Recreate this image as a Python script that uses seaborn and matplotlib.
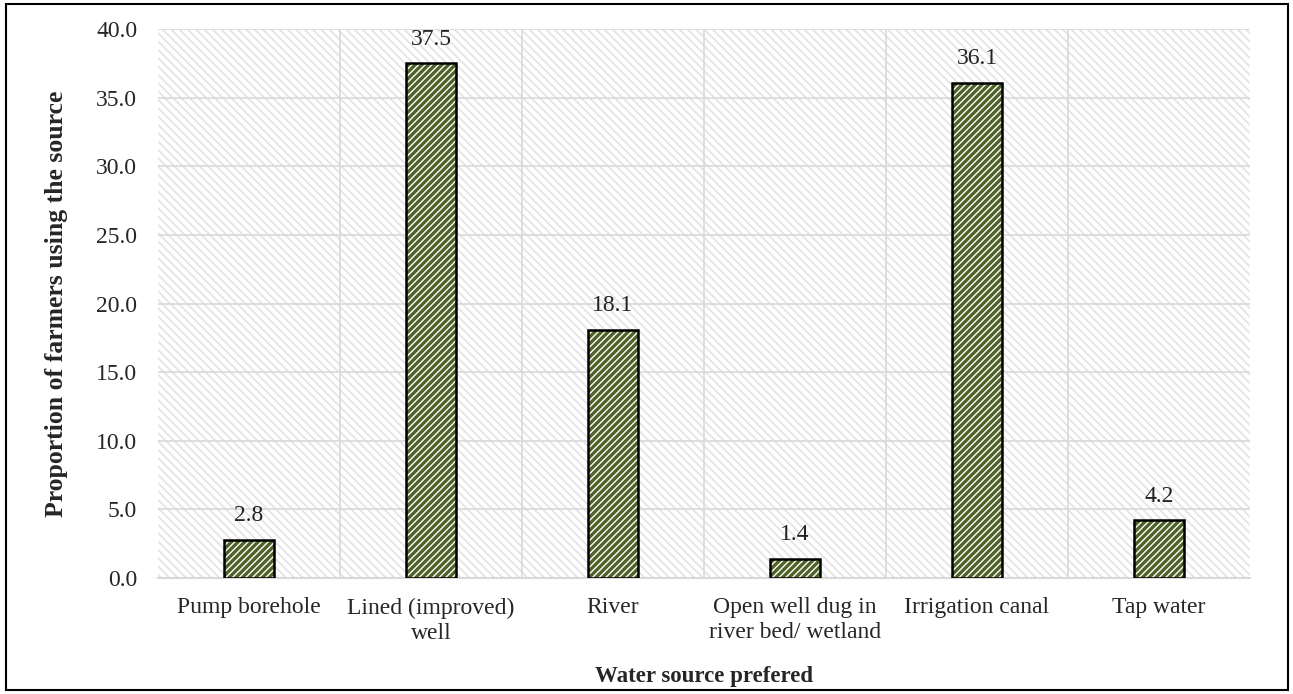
import matplotlib
matplotlib.use("Agg")
import matplotlib.pyplot as plt
import seaborn as sns
import pandas as pd
from matplotlib.patches import Rectangle

categories = ["Pump borehole", "Lined (improved)\nwell", "River",
              "Open well dug in\nriver bed/ wetland", "Irrigation canal", "Tap water"]
values = [2.8, 37.5, 18.1, 1.4, 36.1, 4.2]
yticks = [0, 5, 10, 15, 20, 25, 30, 35, 40]

sns.set_theme(style="white")
plt.rcParams["font.family"] = ["Liberation Serif", "DejaVu Serif"]

FS = 17
df = pd.DataFrame({"source": categories, "pct": values})

fig = plt.figure(figsize=(12.93, 6.94), dpi=100)
ax = fig.add_axes([158 / 1293, 1 - 578 / 694, (1250 - 158) / 1293, (578 - 29) / 694])

# light diagonal texture behind the bars
with plt.rc_context({"hatch.linewidth": 1.2}):
    bg = Rectangle((0, 0), 1, 1, transform=ax.transAxes, facecolor="white",
                   edgecolor="#e3e3e3", hatch="\\\\\\\\", lw=0, zorder=0)
    ax.add_patch(bg)

with plt.rc_context({"hatch.linewidth": 2.4}):
    sns.barplot(data=df, x="source", y="pct", ax=ax, width=0.28,
                color="white", edgecolor="#4f6228", linewidth=0, zorder=3,
                hatch="/////")
for bar in ax.containers[0]:
    bar.set_edgecolor("#4f6228")
    bar.set_facecolor("white")
    x, y = bar.get_xy()
    ax.add_patch(Rectangle((x, y), bar.get_width(), bar.get_height(), fill=False,
                           edgecolor="black", lw=1.8, zorder=4))

for i, v in enumerate(values):
    ax.text(i, v + 1.0, f"{v:.1f}", ha="center", va="bottom", fontsize=FS, color="#222222")

ax.set_ylim(0, 40)
ax.set_xlim(-0.5, len(values) - 0.5)
ax.set_yticks(yticks)
ax.set_yticklabels([f"{t:.1f}" for t in yticks], fontsize=FS)
ax.tick_params(axis="x", labelsize=FS, length=0, pad=14)
ax.tick_params(axis="y", length=0, pad=15)
for lbl in ax.get_xticklabels():
    lbl.set_linespacing(1.25)

# grid: horizontal at ticks, vertical at category boundaries
for t in yticks[1:]:
    ax.axhline(t, color="#d9d9d9", lw=1.2, zorder=1)
for b in range(1, len(values)):
    ax.axvline(b - 0.5, color="#d9d9d9", lw=1.2, zorder=1)

for s in ["top", "right", "left"]:
    ax.spines[s].set_visible(False)
ax.spines["bottom"].set_color("#d9d9d9")
ax.spines["bottom"].set_linewidth(1.5)

ax.set_ylabel("Proportion of farmers using the source", fontsize=18.5, fontweight="bold")
ax.yaxis.label.set_verticalalignment("center")
ax.yaxis.set_label_coords(-0.093, 0.5)
ax.set_xlabel("Water source prefered", fontsize=16.5, fontweight="bold")
ax.xaxis.label.set_verticalalignment("center")
ax.xaxis.set_label_coords(0.5, -0.180)

# outer frame of the figure
fig.patches.append(Rectangle((6 / 1293, 4 / 694), 1282 / 1293, 686 / 694,
                             transform=fig.transFigure, fill=False,
                             edgecolor="black", lw=1.5))

fig.savefig("out.png", dpi=100)
